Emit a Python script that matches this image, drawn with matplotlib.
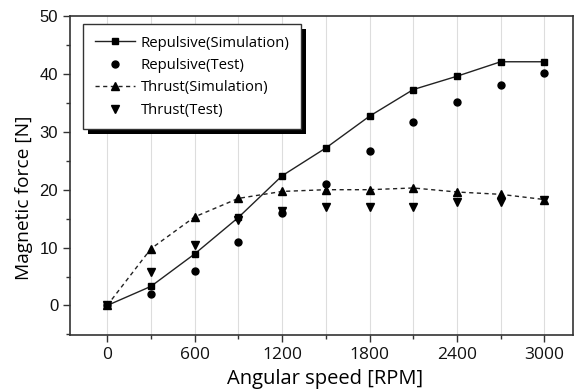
import matplotlib
matplotlib.use("Agg")
import matplotlib.pyplot as plt
from matplotlib.ticker import MultipleLocator
from matplotlib.patches import Rectangle
from matplotlib.transforms import IdentityTransform

speed = [0, 300, 600, 900, 1200, 1500, 1800, 2100, 2400, 2700, 3000]
rep_sim = [0, 3.3, 8.9, 15.2, 22.4, 27.2, 32.7, 37.3, 39.6, 42.1, 42.1]
rep_test = [0, 1.9, 5.9, 11.0, 16.0, 21.0, 26.6, 31.7, 35.1, 38.1, 40.2]
thr_sim = [0, 9.8, 15.3, 18.5, 19.7, 20.0, 20.0, 20.3, 19.6, 19.2, 18.3]
thr_test = [0, 5.8, 10.4, 14.7, 16.4, 17.0, 17.0, 17.0, 17.9, 17.9, 18.3]

fig = plt.figure(figsize=(5.84, 3.89), dpi=100)
ax = fig.add_axes([0.1199, 0.1388, 0.861, 0.820])

lc = '#222222'
ax.plot(speed, rep_sim, '-', color=lc, lw=1.0, marker='s', ms=4.4, mfc='k', mec='k',
        label='Repulsive(Simulation)', zorder=3)
ax.plot(speed, rep_test, 'o', ms=5.0, mfc='k', mec='k', label='Repulsive(Test)', zorder=3)
ax.plot(speed, thr_sim, '--', color=lc, lw=1.0, dashes=(3, 2.5), marker='^', ms=5.5, mfc='k', mec='k',
        label='Thrust(Simulation)', zorder=3)
ax.plot(speed, thr_test, 'v', ms=5.5, mfc='k', mec='k', label='Thrust(Test)', zorder=3)

ax.set_xlim(-255, 3195)
ax.set_ylim(-5.1, 50)
ax.xaxis.set_major_locator(MultipleLocator(600))
ax.xaxis.set_minor_locator(MultipleLocator(300))
ax.yaxis.set_major_locator(MultipleLocator(10))
ax.yaxis.set_minor_locator(MultipleLocator(5))
ax.grid(True, which='both', axis='x', color='#dddddd', lw=0.8)
ax.set_axisbelow(True)

for s in ax.spines.values():
    s.set_color('#333333')
    s.set_linewidth(1.2)
ax.tick_params(which='major', direction='out', length=5, width=1.0, color='#333333',
               labelcolor='#111111', top=False, right=False)
ax.tick_params(which='minor', direction='out', length=3, width=1.0, color='#333333',
               top=False, right=False)
for lab in ax.get_xticklabels():
    lab.set_family('Open Sans')
    lab.set_fontsize(12.5)
for lab in ax.get_yticklabels():
    lab.set_family('Liberation Sans')
    lab.set_fontsize(12)

ax.set_xlabel('Angular speed [RPM]', fontsize=14.5, family='Open Sans', labelpad=4.5, x=0.508)
ax.set_ylabel('Magnetic force [N]', fontsize=13.8, family='Open Sans')
ax.yaxis.set_label_coords(-0.073, 0.43)

leg = ax.legend(loc='upper left', bbox_to_anchor=(0.026, 0.975), borderaxespad=0,
                frameon=True, fancybox=False, edgecolor='#333333', framealpha=1,
                prop={'family': 'Open Sans', 'size': 10.7}, handlelength=2.7, numpoints=1,
                borderpad=0.78, labelspacing=0.5, handletextpad=0.4)
leg.get_frame().set_linewidth(1.0)
leg.set_zorder(6)

fig.canvas.draw()
bb = leg.get_window_extent()
shadow = Rectangle((bb.x0 + 5, bb.y0 - 5), bb.width, bb.height, transform=IdentityTransform(),
                   facecolor='k', edgecolor='none', zorder=5.5)
ax.add_artist(shadow)

fig.savefig('out.png', dpi=100)
